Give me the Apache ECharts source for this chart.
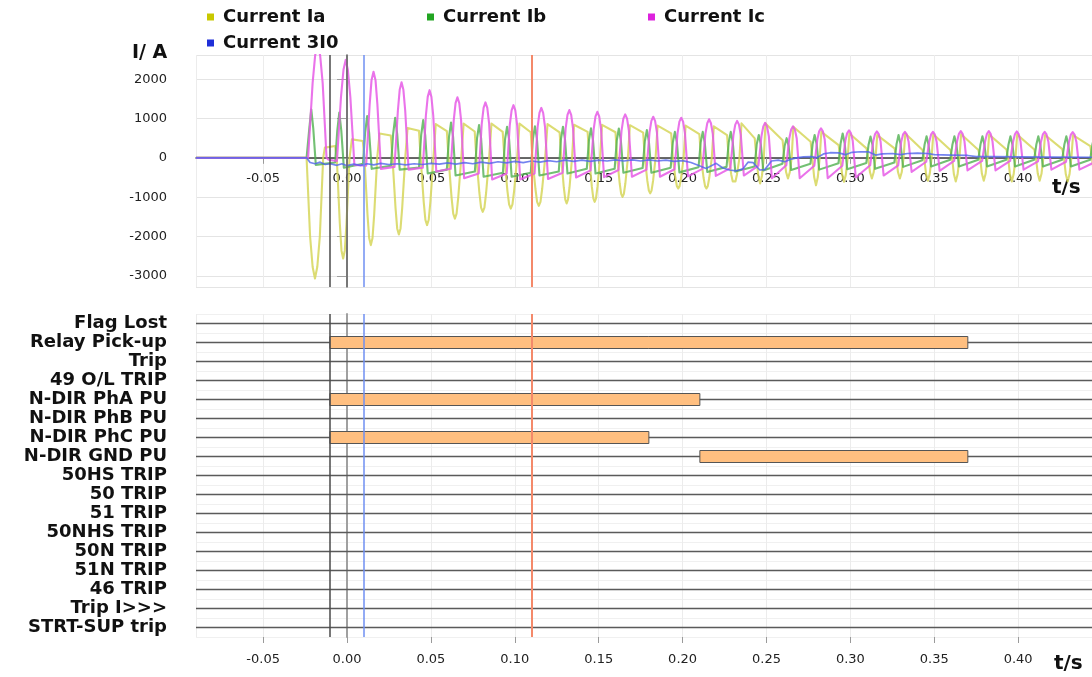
<!DOCTYPE html>
<html><head><meta charset="utf-8">
<script src="https://cdn.jsdelivr.net/npm/echarts@6/dist/echarts.min.js"></script>
<style>html,body{margin:0;padding:0;background:#fff}#c{width:1092px;height:677px}</style>
</head><body><div id="c"></div>
<script>
// ---------- data ----------
const seriesNames = ['Current Ia', 'Current Ib', 'Current Ic', 'Current 3I0'];

// [time s, current A]
const iaData = [
[-0.09,0],[-0.0241,0],
[-0.0220,-2000],[-0.0205,-2770],[-0.0191,-3070],[-0.0177,-2770],[-0.0162,-2000],[-0.0142,0],[-0.0132,260],
[-0.0071,300],[-0.0061,0],[-0.0043,-1664],[-0.0033,-2355],[-0.0023,-2560],[-0.0013,-2355],[-0.0003,-1664],[0.0015,0],[0.0029,470],
[0.0094,430],[0.0104,0],[0.0122,-1443],[0.0132,-2040],[0.0142,-2220],[0.0152,-2040],[0.0162,-1443],[0.0180,0],[0.0194,620],
[0.0261,570],[0.0271,0],[0.0289,-1268],[0.0299,-1795],[0.0309,-1950],[0.0319,-1795],[0.0329,-1268],[0.0347,0],[0.0361,760],
[0.0429,690],[0.0439,0],[0.0457,-1112],[0.0467,-1575],[0.0477,-1710],[0.0487,-1575],[0.0497,-1112],[0.0515,0],[0.0529,860],
[0.0595,680],[0.0605,0],[0.0623,-1004],[0.0633,-1420],[0.0643,-1545],[0.0653,-1420],[0.0663,-1004],[0.0681,0],[0.0695,870],
[0.0761,670],[0.0771,0],[0.0789,-894],[0.0799,-1265],[0.0809,-1375],[0.0819,-1265],[0.0829,-894],[0.0847,0],[0.0861,870],
[0.0928,660],[0.0938,0],[0.0956,-839],[0.0966,-1185],[0.0976,-1290],[0.0986,-1185],[0.0996,-839],[0.1014,0],[0.1028,870],
[0.1095,650],[0.1105,0],[0.1123,-793],[0.1133,-1120],[0.1143,-1220],[0.1153,-1120],[0.1163,-793],[0.1181,0],[0.1195,860],
[0.1267,650],[0.1277,0],[0.1292,-754],[0.1301,-1065],[0.1309,-1160],[0.1317,-1065],[0.1326,-754],[0.1341,0],[0.1353,840],
[0.1434,660],[0.1444,0],[0.1459,-728],[0.1468,-1030],[0.1476,-1120],[0.1484,-1030],[0.1493,-728],[0.1508,0],[0.1520,840],
[0.1600,650],[0.1610,0],[0.1625,-647],[0.1634,-915],[0.1642,-995],[0.1650,-915],[0.1659,-647],[0.1674,0],[0.1686,830],
[0.1765,640],[0.1775,0],[0.1790,-588],[0.1799,-835],[0.1807,-905],[0.1815,-835],[0.1824,-588],[0.1839,0],[0.1851,820],
[0.1932,620],[0.1942,0],[0.1957,-507],[0.1966,-720],[0.1974,-780],[0.1982,-720],[0.1991,-507],[0.2006,0],[0.2018,820],
[0.2100,600],[0.2110,0],[0.2125,-507],[0.2134,-720],[0.2142,-780],[0.2150,-720],[0.2159,-507],[0.2174,0],[0.2186,800],
[0.2265,580],[0.2275,0],[0.2290,-423],[0.2299,-600],[0.2307,-650],[0.2315,-600],[0.2324,-423],[0.2339,0],[0.2351,876],
[0.2430,494],[0.2440,0],[0.2451,-455],[0.2462,-650],[0.2473,-455],[0.2484,0],[0.2494,876],
[0.2596,450],[0.2606,0],[0.2617,-368],[0.2628,-525],[0.2639,-368],[0.2650,0],[0.2660,790],
[0.2763,410],[0.2773,0],[0.2784,-487],[0.2795,-695],[0.2806,-487],[0.2817,0],[0.2827,662],
[0.2930,324],[0.2940,0],[0.2951,-427],[0.2962,-610],[0.2973,-427],[0.2984,0],[0.2994,620],
[0.3096,240],[0.3106,0],[0.3117,-368],[0.3128,-525],[0.3139,-368],[0.3150,0],[0.3160,577],
[0.3263,240],[0.3273,0],[0.3284,-368],[0.3295,-525],[0.3306,-368],[0.3317,0],[0.3327,620],
[0.3430,200],[0.3440,0],[0.3451,-406],[0.3462,-580],[0.3473,-406],[0.3484,0],[0.3494,600],
[0.3596,200],[0.3606,0],[0.3617,-420],[0.3628,-600],[0.3639,-420],[0.3650,0],[0.3660,600],
[0.3763,200],[0.3773,0],[0.3784,-406],[0.3795,-580],[0.3806,-406],[0.3817,0],[0.3827,590],
[0.3930,210],[0.3940,0],[0.3951,-420],[0.3962,-600],[0.3973,-420],[0.3984,0],[0.3994,590],
[0.4096,210],[0.4106,0],[0.4117,-406],[0.4128,-580],[0.4139,-406],[0.4150,0],[0.4160,580],
[0.4263,220],[0.4273,0],[0.4284,-420],[0.4295,-600],[0.4306,-420],[0.4317,0],[0.4327,580],
[0.4430,300],[0.4440,0],[0.4451,-420]
];

const ibData = [
[-0.09,0],[-0.0241,0],
[-0.0225,740],[-0.0213,1230],[-0.0201,740],[-0.0186,-180],
[-0.0071,-120],[-0.0058,690],[-0.0046,1150],[-0.0034,690],[-0.0019,-250],
[0.0095,-150],[0.0108,636],[0.0120,1060],[0.0132,636],[0.0147,-280],
[0.0262,-200],[0.0275,612],[0.0287,1020],[0.0299,612],[0.0314,-300],
[0.0429,-250],[0.0442,576],[0.0454,960],[0.0466,576],[0.0481,-400],
[0.0595,-300],[0.0608,540],[0.0620,900],[0.0632,540],[0.0647,-450],
[0.0762,-350],[0.0775,501],[0.0787,835],[0.0799,501],[0.0814,-480],
[0.0929,-380],[0.0942,474],[0.0954,790],[0.0966,474],[0.0981,-480],
[0.1095,-380],[0.1108,480],[0.1120,800],[0.1132,480],[0.1147,-450],
[0.1262,-350],[0.1275,474],[0.1287,790],[0.1299,474],[0.1314,-400],
[0.1429,-280],[0.1442,450],[0.1454,750],[0.1466,450],[0.1481,-400],
[0.1595,-280],[0.1608,447],[0.1620,745],[0.1632,447],[0.1647,-380],
[0.1762,-260],[0.1775,423],[0.1787,705],[0.1799,423],[0.1814,-380],
[0.1929,-250],[0.1942,396],[0.1954,660],[0.1966,396],[0.1981,-370],
[0.2095,-240],[0.2108,396],[0.2120,660],[0.2132,396],[0.2147,-360],
[0.2262,-230],[0.2275,396],[0.2287,660],[0.2299,396],[0.2314,-350],
[0.2429,-220],[0.2442,348],[0.2454,580],[0.2466,348],[0.2481,-320],
[0.2595,-150],[0.2608,300],[0.2620,500],[0.2632,300],[0.2647,-310],
[0.2762,-150],[0.2775,348],[0.2787,580],[0.2799,348],[0.2814,-300],
[0.2929,-140],[0.2942,372],[0.2954,620],[0.2966,372],[0.2981,-290],
[0.3095,-130],[0.3108,324],[0.3120,540],[0.3132,324],[0.3147,-280],
[0.3262,-120],[0.3275,348],[0.3287,580],[0.3299,348],[0.3314,-230],
[0.3429,-60],[0.3442,330],[0.3454,550],[0.3466,330],[0.3481,-220],
[0.3595,-50],[0.3608,330],[0.3620,550],[0.3632,330],[0.3647,-220],
[0.3762,-50],[0.3775,330],[0.3787,550],[0.3799,330],[0.3814,-220],
[0.3929,-50],[0.3942,330],[0.3954,550],[0.3966,330],[0.3981,-220],
[0.4095,-50],[0.4108,330],[0.4120,550],[0.4132,330],[0.4147,-220],
[0.4262,-50],[0.4275,330],[0.4287,550],[0.4299,330],[0.4314,-220],
[0.4429,-50],[0.4442,330],[0.4454,550]
];

const icData = [
[-0.09,0],[-0.0232,0],
[-0.0205,1900],[-0.0190,2600],[-0.0175,2900],[-0.0160,2600],[-0.0145,1900],[-0.0122,0],[-0.0110,-50],
[-0.0060,-80],[-0.0036,1540],[-0.0021,2240],[-0.0008,2490],[0.0005,2240],[0.0020,1540],[0.0044,-180],
[0.0114,-200],[0.0135,1360],[0.0146,1970],[0.0158,2190],[0.0170,1970],[0.0181,1360],[0.0202,-280],
[0.0283,-230],[0.0303,1190],[0.0314,1730],[0.0325,1920],[0.0336,1730],[0.0347,1190],[0.0367,-300],
[0.0452,-250],[0.0470,1070],[0.0481,1550],[0.0492,1720],[0.0503,1550],[0.0514,1070],[0.0532,-350],
[0.0618,-280],[0.0636,950],[0.0647,1390],[0.0658,1540],[0.0669,1390],[0.0680,950],[0.0698,-520],
[0.0785,-400],[0.0803,870],[0.0814,1270],[0.0825,1410],[0.0836,1270],[0.0847,870],[0.0865,-550],
[0.0952,-400],[0.0970,830],[0.0981,1205],[0.0992,1340],[0.1003,1205],[0.1014,830],[0.1032,-550],
[0.1118,-400],[0.1136,790],[0.1147,1145],[0.1158,1270],[0.1169,1145],[0.1180,790],[0.1198,-540],
[0.1285,-380],[0.1303,750],[0.1314,1095],[0.1325,1215],[0.1336,1095],[0.1347,750],[0.1365,-500],
[0.1452,-320],[0.1470,725],[0.1481,1055],[0.1492,1170],[0.1503,1055],[0.1514,725],[0.1532,-490],
[0.1618,-310],[0.1636,685],[0.1647,995],[0.1658,1105],[0.1669,995],[0.1680,685],[0.1698,-480],
[0.1785,-300],[0.1803,650],[0.1814,940],[0.1825,1045],[0.1836,940],[0.1847,650],[0.1865,-480],
[0.1952,-290],[0.1970,630],[0.1981,920],[0.1992,1020],[0.2003,920],[0.2014,630],[0.2032,-470],
[0.2118,-280],[0.2136,610],[0.2147,880],[0.2158,980],[0.2169,880],[0.2180,610],[0.2198,-460],
[0.2285,-260],[0.2303,580],[0.2314,845],[0.2325,940],[0.2336,845],[0.2347,580],[0.2365,-450],
[0.2452,-200],[0.2470,550],[0.2481,800],[0.2492,890],[0.2503,800],[0.2514,550],[0.2532,-520],
[0.2618,-190],[0.2636,500],[0.2647,720],[0.2658,800],[0.2669,720],[0.2680,500],[0.2698,-520],
[0.2785,-200],[0.2803,465],[0.2814,675],[0.2825,750],[0.2836,675],[0.2847,465],[0.2865,-520],
[0.2952,-200],[0.2970,435],[0.2981,630],[0.2992,700],[0.3003,630],[0.3014,435],[0.3032,-500],
[0.3118,-190],[0.3136,415],[0.3147,605],[0.3158,670],[0.3169,605],[0.3180,415],[0.3198,-450],
[0.3285,-190],[0.3303,410],[0.3314,595],[0.3325,660],[0.3336,595],[0.3347,410],[0.3365,-360],
[0.3452,-100],[0.3470,410],[0.3481,595],[0.3492,660],[0.3503,595],[0.3514,410],[0.3532,-330],
[0.3618,-80],[0.3636,420],[0.3647,610],[0.3658,680],[0.3669,610],[0.3680,420],[0.3698,-320],
[0.3785,-80],[0.3803,420],[0.3814,610],[0.3825,680],[0.3836,610],[0.3847,420],[0.3865,-320],
[0.3952,-80],[0.3970,415],[0.3981,605],[0.3992,670],[0.4003,605],[0.4014,415],[0.4032,-300],
[0.4118,-90],[0.4136,410],[0.4147,595],[0.4158,660],[0.4169,595],[0.4180,410],[0.4198,-300],
[0.4285,-100],[0.4303,405],[0.4314,590],[0.4325,655],[0.4336,590],[0.4347,405],[0.4365,-300],
[0.4452,-120],[0.4470,400]
];

const i0Data = [
[-0.09,0],[-0.0241,0],[-0.0220,-120],[-0.0190,-150],[-0.0160,-110],[-0.0130,-170],[-0.0100,-150],
[-0.0060,-190],[-0.0030,-150],[0.0000,-200],[0.0040,-160],[0.0080,-190],[0.0120,-150],[0.0160,-180],
[0.0200,-140],[0.0250,-170],[0.0300,-150],[0.0350,-180],[0.0400,-150],[0.0450,-170],[0.0500,-140],
[0.0550,-160],[0.0600,-130],[0.0650,-160],[0.0700,-120],[0.0750,-150],[0.0800,-110],[0.0850,-140],
[0.0900,-100],[0.0950,-130],[0.1000,-90],[0.1050,-120],[0.1100,-80],[0.1150,-110],[0.1200,-70],
[0.1250,-100],[0.1300,-60],[0.1350,-90],[0.1400,-60],[0.1450,-90],[0.1500,-60],[0.1550,-80],
[0.1600,-50],[0.1650,-80],[0.1700,-50],[0.1750,-80],[0.1800,-50],[0.1850,-80],[0.1900,-60],
[0.1950,-90],[0.2000,-70],[0.2050,-120],[0.2100,-200],[0.2140,-270],[0.2180,-180],[0.2200,-140],
[0.2240,-260],[0.2280,-310],[0.2320,-330],[0.2360,-280],[0.2390,-110],[0.2420,-120],[0.2460,-310],
[0.2490,-300],[0.2530,-80],[0.2570,-60],[0.2610,-100],[0.2640,-40],[0.2680,0],[0.2720,25],
[0.2770,30],[0.2800,0],[0.2840,100],[0.2880,130],[0.2930,125],[0.2970,80],[0.3010,140],
[0.3060,155],[0.3110,150],[0.3150,70],[0.3190,100],[0.3250,110],[0.3300,80],[0.3340,110],
[0.3400,120],[0.3460,110],[0.3500,80],[0.3600,70],[0.3700,60],[0.3750,30],[0.3850,30],
[0.4000,25],[0.4200,20],[0.4440,15]
];

const eventRows = ['Flag Lost','Relay Pick-up','Trip','49 O/L TRIP','N-DIR PhA PU','N-DIR PhB PU',
  'N-DIR PhC PU','N-DIR GND PU','50HS TRIP','50 TRIP','51 TRIP','50NHS TRIP','50N TRIP','51N TRIP',
  '46 TRIP','Trip I>>>','STRT-SUP trip'];
const barRows  = ['Relay Pick-up','N-DIR PhA PU','N-DIR PhC PU','N-DIR GND PU'];
const barStart = [-0.0102, -0.0102, -0.0102, 0.2103];
const barEnd   = [0.3700, 0.2103, 0.1799, 0.3700];

const cursorTop = [-0.0102, 0.0, 0.0097, 0.109];
const cursorBottom = [-0.0102, 0.0097, 0.109];

// ---------- styling ----------
const FONT = 'DejaVu Sans';
const legendColors = ['#c8c800', '#22a522', '#dd22dd', '#1f2fd8'];
const lineColors = ['rgba(214,214,90,0.85)', 'rgba(80,176,80,0.8)', 'rgba(230,90,230,0.85)', 'rgba(80,100,235,0.8)'];
const cursorColors = {'-0.0102': '#4a4a4a', '0': '#6a6a6a', '0.0097': '#6f8ff2', '0.109': '#f4896a'};

const tMin = -0.09, tMax = 0.444;
const fmtT = v => v.toFixed(2);

const chart = echarts.init(document.getElementById('c'), null, {renderer: 'canvas'});

const cursorLine = t => ({
  xAxis: t,
  lineStyle: {color: cursorColors[String(t)], width: t === 0.109 ? 2 : 1.5, type: 'solid'}
});

const legendBase = {
  icon: 'rect', itemWidth: 7, itemHeight: 7, itemGap: 0, padding: 0,
  textStyle: {fontFamily: FONT, fontWeight: 'bold', fontSize: 18, color: '#111', padding: [0, 0, 0, 4]}
};

const rowIdx = eventRows.map((c, i) => [i]);
const barData = barRows.map((r, i) => [eventRows.indexOf(r), barStart[i], barEnd[i]]);

const waveLine = (i, data, z) => ({
  name: seriesNames[i], type: 'line', xAxisIndex: 0, yAxisIndex: 0, data: data,
  showSymbol: false, symbol: 'none', clip: true, z: z, smooth: false,
  itemStyle: {color: legendColors[i]}, lineStyle: {color: lineColors[i], width: i === 3 ? 1.7 : 2.1, join: 'round'}
});

const iaSeries = waveLine(0, iaData, 2);
iaSeries.markLine = {
  silent: true, symbol: ['none', 'none'], label: {show: false}, animation: false,
  data: cursorTop.map(cursorLine)
};

const option = {
  backgroundColor: '#fff',
  animation: false,
  legend: [
    Object.assign({}, legendBase, {left: 207, top: 8, data: [{name: seriesNames[0], itemStyle: {color: legendColors[0]}}]}),
    Object.assign({}, legendBase, {left: 427, top: 8, data: [{name: seriesNames[1], itemStyle: {color: legendColors[1]}}]}),
    Object.assign({}, legendBase, {left: 648, top: 8, data: [{name: seriesNames[2], itemStyle: {color: legendColors[2]}}]}),
    Object.assign({}, legendBase, {left: 207, top: 34, data: [{name: seriesNames[3], itemStyle: {color: legendColors[3]}}]})
  ],
  grid: [
    {left: 196, right: 0, top: 55, height: 232, containLabel: false},
    {left: 196, right: 0, top: 314, height: 323, containLabel: false}
  ],
  xAxis: [
    {
      type: 'value', gridIndex: 0, min: tMin, max: tMax, splitNumber: 10, minInterval: 0.05, maxInterval: 0.05,
      axisLine: {onZero: true, lineStyle: {color: '#3a3a3a', width: 1.5}},
      axisTick: {show: true, length: 6, lineStyle: {color: '#999'}},
      axisLabel: {formatter: fmtT, showMinLabel: false, showMaxLabel: false, margin: -115,
        fontFamily: FONT, fontSize: 13, color: '#222'},
      splitLine: {show: true, lineStyle: {color: '#ececec', width: 1}}
    },
    {
      type: 'value', gridIndex: 1, min: tMin, max: tMax, splitNumber: 10, minInterval: 0.05, maxInterval: 0.05,
      axisLine: {onZero: false, lineStyle: {color: '#9a9a9a', width: 1.5}},
      axisTick: {show: true, length: 6, lineStyle: {color: '#9a9a9a'}},
      axisLabel: {formatter: fmtT, showMinLabel: false, showMaxLabel: false, margin: 16,
        fontFamily: FONT, fontSize: 13, color: '#222'},
      splitLine: {show: true, lineStyle: {color: '#ececec', width: 1}}
    }
  ],
  yAxis: [
    {
      type: 'value', gridIndex: 0, min: -3285, max: 2615, splitNumber: 5, minInterval: 1000, maxInterval: 1000,
      axisLine: {show: true, lineStyle: {color: '#a0a0a0', width: 2}},
      axisTick: {show: true, length: 10, lineStyle: {color: '#a0a0a0'}},
      axisLabel: {formatter: v => String(v), showMinLabel: false, showMaxLabel: false, margin: 29,
        fontFamily: FONT, fontSize: 13, color: '#222'},
      splitLine: {show: true, lineStyle: {color: '#e4e4e4', width: 1}}
    },
    {
      type: 'category', gridIndex: 1, data: eventRows, inverse: true, boundaryGap: true,
      axisLine: {show: true, lineStyle: {color: '#a0a0a0', width: 2}},
      axisTick: {show: false},
      axisLabel: {interval: 0, margin: 29, fontFamily: FONT, fontWeight: 'bold', fontSize: 18, color: '#111'},
      splitLine: {show: true, interval: 0, lineStyle: {color: '#f0f0f0', width: 1}}
    }
  ],
  graphic: [
    {type: 'text', left: 132, top: 44, style: {text: 'I/ A', font: 'bold 19px "DejaVu Sans"', fill: '#111'}},
    {type: 'text', left: 1052, top: 178, style: {text: 't/s', font: 'bold 20px "DejaVu Sans"', fill: '#111'}},
    {type: 'text', left: 1054, top: 654, style: {text: 't/s', font: 'bold 20px "DejaVu Sans"', fill: '#111'}}
  ],
  series: [
    iaSeries,
    waveLine(1, ibData, 3),
    waveLine(2, icData, 3),
    waveLine(3, i0Data, 4),
    {
      name: 'rows', type: 'custom', xAxisIndex: 1, yAxisIndex: 1, data: rowIdx, z: 1, silent: true,
      encode: {y: 0},
      renderItem: (params, api) => {
        const p = api.coord([0, api.value(0)]);
        const cs = params.coordSys;
        return {type: 'line', shape: {x1: cs.x, y1: p[1], x2: cs.x + cs.width, y2: p[1]},
          style: {stroke: '#5a5a5a', lineWidth: 1.3}};
      }
    },
    {
      name: 'events', type: 'custom', xAxisIndex: 1, yAxisIndex: 1, data: barData, z: 3, silent: true,
      encode: {y: 0, x: [1, 2]},
      renderItem: (params, api) => {
        const c = api.value(0);
        const s = api.coord([api.value(1), c]);
        const e = api.coord([api.value(2), c]);
        const h = 12;
        return {type: 'rect', shape: {x: s[0], y: s[1] - h / 2, width: e[0] - s[0], height: h},
          style: {fill: '#ffbf80', stroke: '#555', lineWidth: 1}};
      },
      markLine: {
        silent: true, symbol: ['none', 'none'], label: {show: false}, animation: false,
        data: cursorBottom.map(cursorLine)
      }
    }
  ]
};
chart.setOption(option);
</script>
</body></html>
